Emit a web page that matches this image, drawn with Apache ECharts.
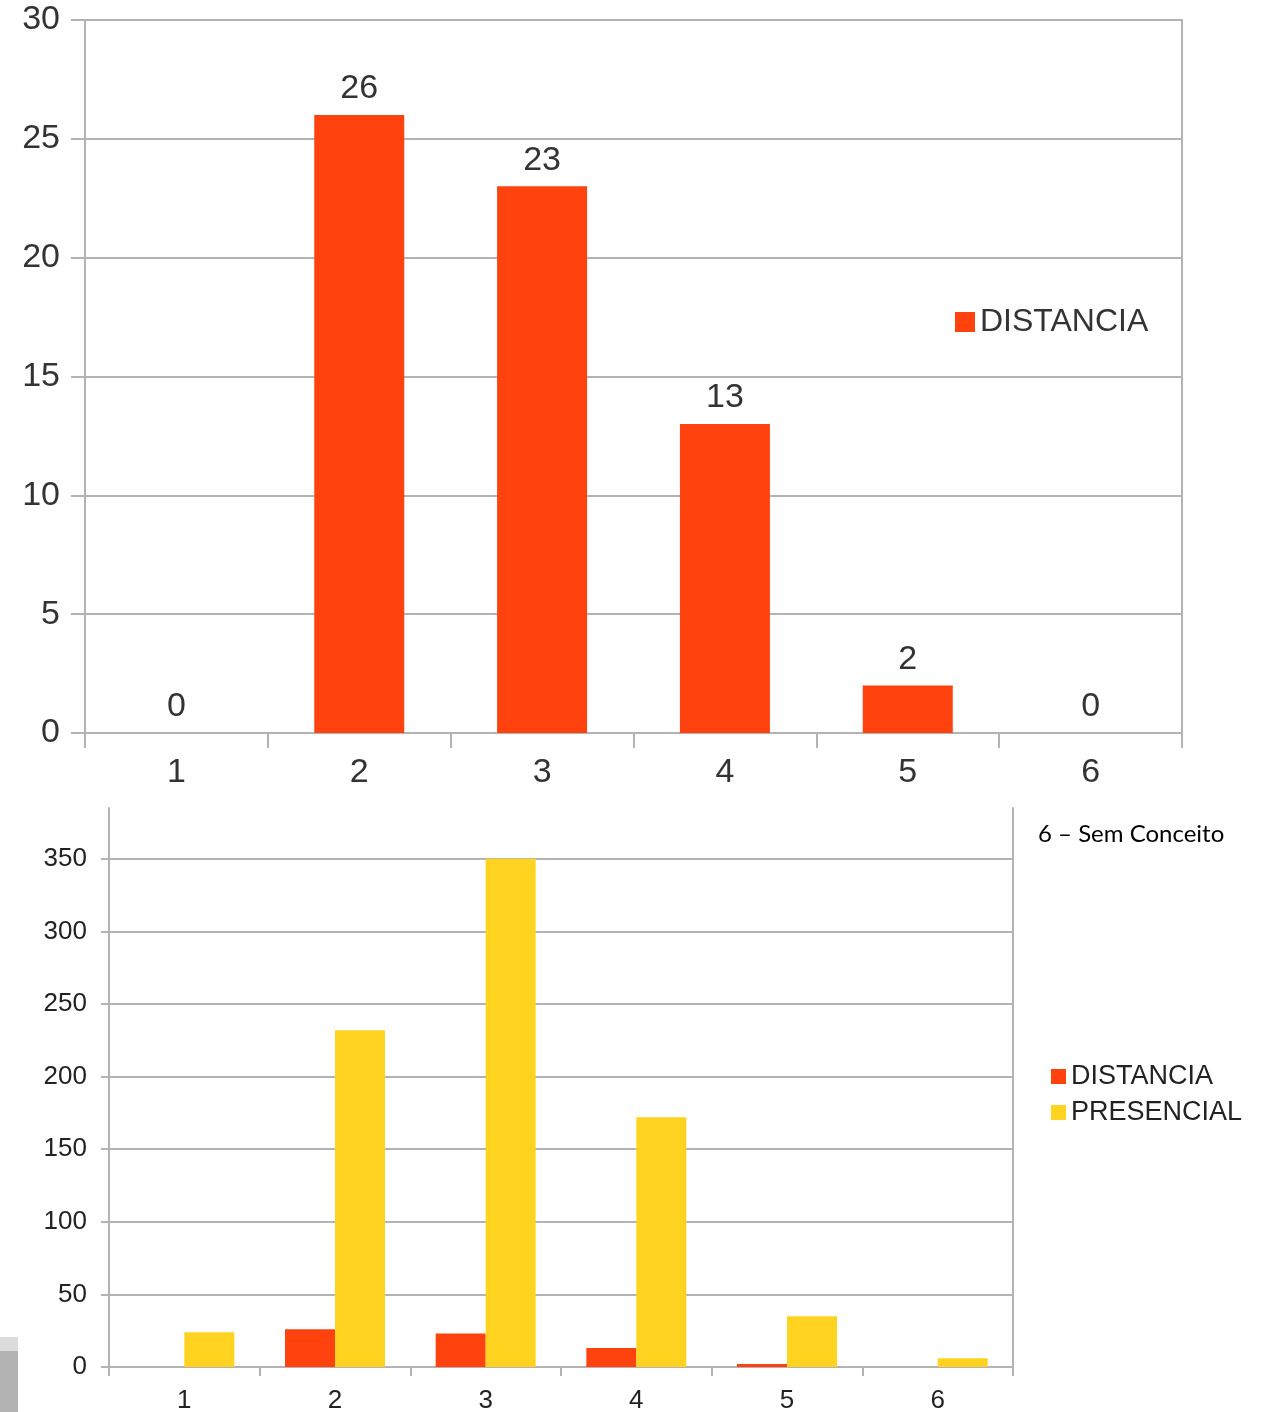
<!DOCTYPE html>
<html>
<head>
<meta charset="utf-8">
<script src="https://cdn.jsdelivr.net/npm/echarts@6/dist/echarts.min.js"></script>
<style>
html,body{margin:0;padding:0;background:#fff;}
#c{width:1261px;height:1412px;}
</style>
</head>
<body>
<div id="c"></div>
<script>
const categories = ['1', '2', '3', '4', '5', '6'];
const distancia = [0, 26, 23, 13, 2, 0];
const presencial = [24, 232, 350, 172, 35, 6];
const topTicks = { min: 0, max: 30, interval: 5 };
const bottomTicks = { min: 0, max: 385, interval: 50 };
const note = '6 – Sem Conceito';

const RED = '#FF420E';
const YELLOW = '#FFD320';
const AXIS = '#b3b3b3';
const FONT = '"Liberation Sans", Arial, sans-serif';

const chart = echarts.init(document.getElementById('c'), null, { renderer: 'canvas' });

chart.setOption({
  animation: false,
  backgroundColor: '#fff',
  title: {
    text: note,
    left: 1038, top: 822,
    padding: 0,
    textStyle: { fontFamily: 'Lato, "Open Sans", sans-serif', fontSize: 24, fontWeight: 'normal', color: '#000' }
  },
  grid: [
    { left: 85, top: 20, width: 1097, height: 713, containLabel: false, outerBoundsMode: 'none' },
    { left: 109, top: 808, width: 904, height: 559, containLabel: false, outerBoundsMode: 'none' }
  ],
  legend: [
    {
      data: ['DISTANCIA'],
      orient: 'vertical',
      left: 950, top: 301,
      itemWidth: 20, itemHeight: 20, itemGap: 8,
      icon: 'rect',
      textStyle: { fontFamily: FONT, fontSize: 32, color: '#333' },
      selectedMode: false
    },
    {
      data: ['DISTANCIA', 'PRESENCIAL'],
      orient: 'vertical',
      left: 1046, top: 1058,
      itemWidth: 15, itemHeight: 15, itemGap: 9,
      icon: 'rect',
      textStyle: { fontFamily: FONT, fontSize: 27, color: '#222' },
      selectedMode: false
    }
  ],
  xAxis: [
    {
      type: 'category', gridIndex: 0, data: categories, boundaryGap: true,
      axisLine: { show: true, lineStyle: { color: AXIS, width: 2 } },
      axisTick: { show: true, alignWithLabel: false, length: 15, lineStyle: { color: AXIS, width: 2 } },
      axisLabel: { fontFamily: FONT, fontSize: 34, color: '#333', margin: 23 }
    },
    {
      type: 'category', gridIndex: 1, data: categories, boundaryGap: true,
      axisLine: { show: true, lineStyle: { color: AXIS, width: 2 } },
      axisTick: { show: true, length: 9, lineStyle: { color: AXIS, width: 2 } },
      axisLabel: { fontFamily: FONT, fontSize: 26, color: '#222', margin: 21 }
    }
  ],
  yAxis: [
    {
      type: 'value', gridIndex: 0,
      min: topTicks.min, max: topTicks.max, interval: topTicks.interval,
      axisLine: { show: true, lineStyle: { color: AXIS, width: 2 } },
      axisTick: { show: true, length: 14, lineStyle: { color: AXIS, width: 2 } },
      splitLine: { show: true, lineStyle: { color: AXIS, width: 2 } },
      axisLabel: { fontFamily: FONT, fontSize: 34, color: '#333', margin: 25 }
    },
    {
      type: 'value', gridIndex: 0, position: 'right',
      min: topTicks.min, max: topTicks.max, interval: topTicks.interval,
      axisLine: { show: true, lineStyle: { color: AXIS, width: 2 } },
      axisTick: { show: false }, axisLabel: { show: false }, splitLine: { show: false }
    },
    {
      type: 'value', gridIndex: 1,
      min: bottomTicks.min, max: bottomTicks.max, interval: bottomTicks.interval,
      axisLine: { show: true, lineStyle: { color: AXIS, width: 2 } },
      axisTick: { show: true, length: 8, lineStyle: { color: AXIS, width: 2 } },
      splitLine: { show: true, showMaxLine: false, lineStyle: { color: AXIS, width: 2 } },
      axisLabel: {
        fontFamily: FONT, fontSize: 26, color: '#222', margin: 22, showMaxLabel: false,
        formatter: v => (v % bottomTicks.interval === 0 ? String(v) : '')
      }
    },
    {
      type: 'value', gridIndex: 1, position: 'right',
      min: bottomTicks.min, max: bottomTicks.max,
      axisLine: { show: true, lineStyle: { color: AXIS, width: 2 } },
      axisTick: { show: false }, axisLabel: { show: false }, splitLine: { show: false }
    }
  ],
  series: [
    {
      name: 'DISTANCIA', type: 'bar', xAxisIndex: 0, yAxisIndex: 0,
      data: distancia, barWidth: 90,
      itemStyle: { color: RED },
      label: { show: true, position: 'top', distance: 9, fontFamily: FONT, fontSize: 34, color: '#333' }
    },
    {
      name: 'DISTANCIA', type: 'bar', xAxisIndex: 1, yAxisIndex: 2,
      data: distancia, barWidth: 50, barGap: '0%',
      itemStyle: { color: RED }
    },
    {
      name: 'PRESENCIAL', type: 'bar', xAxisIndex: 1, yAxisIndex: 2,
      data: presencial, barWidth: 50, barGap: '0%',
      itemStyle: { color: YELLOW }
    }
  ],
  graphic: [
    { type: 'rect', left: 0, top: 1337, shape: { width: 18, height: 14 }, style: { fill: '#dcdcdc' }, silent: true },
    { type: 'rect', left: 0, top: 1351, shape: { width: 18, height: 61 }, style: { fill: '#b3b3b3' }, silent: true }
  ]
});
</script>
</body>
</html>
